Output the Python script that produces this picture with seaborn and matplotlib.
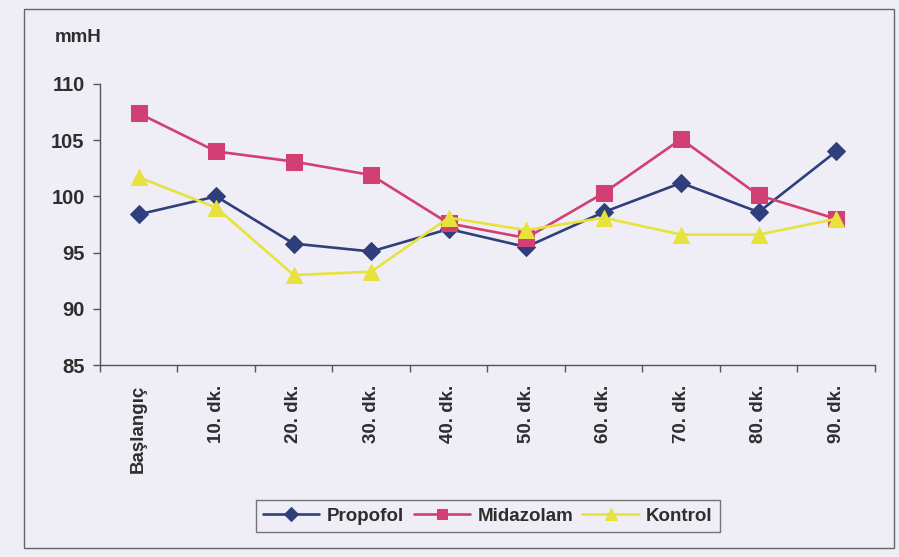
import matplotlib
matplotlib.use("Agg")
import matplotlib.pyplot as plt
from matplotlib.patches import Rectangle
from matplotlib.ticker import FixedLocator, NullFormatter
import pandas as pd
import seaborn as sns

# Measurement times
times = ["Başlangıç", "10. dk.", "20. dk.", "30. dk.", "40. dk.",
         "50. dk.", "60. dk.", "70. dk.", "80. dk.", "90. dk."]

# Mean arterial pressure per group (mmHg)
propofol = [98.4, 100.0, 95.8, 95.1, 97.1, 95.5, 98.6, 101.2, 98.6, 104.0]
midazolam = [107.4, 104.0, 103.1, 101.9, 97.6, 96.3, 100.3, 105.1, 100.1, 98.0]
kontrol = [101.7, 99.0, 93.0, 93.3, 98.1, 97.0, 98.1, 96.6, 96.6, 98.0]

groups = ["Propofol", "Midazolam", "Kontrol"]
y_ticks = [85, 90, 95, 100, 105, 110]
y_label = "mmH"

df = pd.DataFrame({
    "zaman": times * 3,
    "deger": propofol + midazolam + kontrol,
    "grup": [g for g in groups for _ in times],
})
df["pos"] = [i for _ in groups for i in range(len(times))]

bg = "#efedf6"
txt = "#2e2e2e"
sns.set_theme(style="white")
plt.rcParams["font.family"] = ["Liberation Sans", "DejaVu Sans"]
plt.rcParams["font.weight"] = "bold"

fig = plt.figure(figsize=(8.99, 5.57), dpi=100, facecolor=bg)
ax = fig.add_axes([0.1112, 0.3447, 0.862, 0.5045], facecolor=bg)

palette = {"Propofol": "#2f3f7c", "Midazolam": "#d23f72", "Kontrol": "#e8e23c"}
markers = {"Propofol": "D", "Midazolam": "s", "Kontrol": "^"}
sizes = {"Propofol": 9.5, "Midazolam": 11, "Kontrol": 11.5}

for g in groups:
    sub = df[df["grup"] == g]
    sns.lineplot(data=sub, x="pos", y="deger", ax=ax, color=palette[g],
                 marker=markers[g], markersize=sizes[g], markeredgecolor=palette[g],
                 linewidth=1.9, label=g, sort=False)

ax.set_xlim(-0.5, len(times) - 0.5)
ax.set_ylim(85, 110)
ax.set_yticks(y_ticks)
ax.set_xticks(range(len(times)))
ax.set_xticklabels(times, rotation=90, fontsize=13.5, color=txt, fontweight="bold")
ax.xaxis.set_minor_locator(FixedLocator([i - 0.5 for i in range(len(times) + 1)]))
ax.xaxis.set_minor_formatter(NullFormatter())
ax.tick_params(axis="x", which="major", length=0, pad=14)
ax.tick_params(axis="x", which="minor", length=5, width=1, color="#555555", direction="out", bottom=True)
ax.tick_params(axis="y", length=5, width=1, color="#555555", direction="out", left=True,
               labelsize=14.5, labelcolor=txt, pad=6)
for lbl in ax.get_yticklabels():
    lbl.set_fontweight("bold")
ax.set_xlabel("")
ax.set_ylabel("")

for side in ["top", "right"]:
    ax.spines[side].set_visible(False)
for side in ["left", "bottom"]:
    ax.spines[side].set_color("#555555")
    ax.spines[side].set_linewidth(1.0)

fig.text(55 / 899, 1 - 38 / 557, y_label, fontsize=13.5, color=txt,
         ha="left", va="center", fontweight="bold")

leg = ax.legend(loc="center", bbox_to_anchor=(488 / 899, 1 - 516 / 557),
                bbox_transform=fig.transFigure, ncol=3, frameon=True,
                prop={"size": 13.5, "weight": "bold"}, handlelength=3.0,
                columnspacing=0.5, handletextpad=0.4, borderpad=0.4,
                fancybox=False, markerscale=0.7)
for t in leg.get_texts():
    t.set_color(txt)
leg.get_frame().set_edgecolor("#555555")
leg.get_frame().set_facecolor(bg)
leg.get_frame().set_linewidth(1.0)

fig.patches.append(Rectangle((24 / 899, 1 - 548 / 557), 870 / 899, 539 / 557,
                             transform=fig.transFigure, fill=False,
                             edgecolor="#666666", linewidth=1.0))

fig.savefig("out.png", dpi=100, facecolor=bg)
